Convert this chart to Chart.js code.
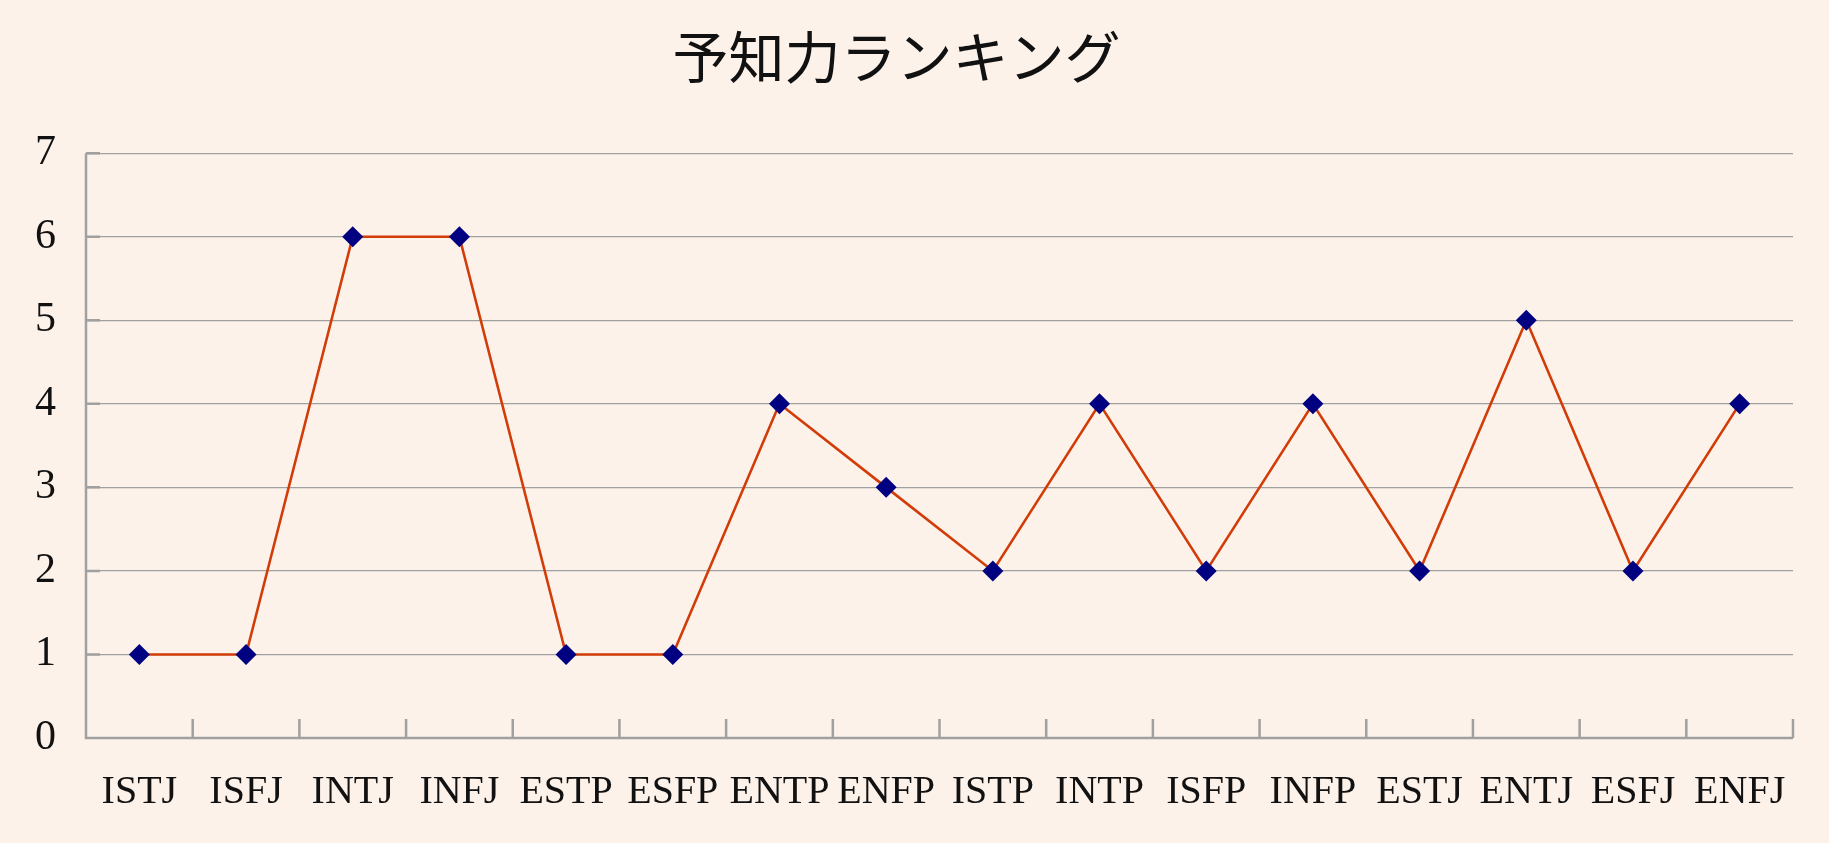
<!DOCTYPE html>
<html>
<head>
<meta charset="utf-8">
<script src="https://cdn.jsdelivr.net/npm/chart.js@4/dist/chart.umd.min.js"></script>
<style>
  html, body { margin: 0; padding: 0; background: #fdf2ea; }
  #wrap { width: 1829px; height: 843px; }
</style>
</head>
<body>
<div id="wrap"><canvas id="rank"></canvas></div>
<script>
const types = ['ISTJ', 'ISFJ', 'INTJ', 'INFJ', 'ESTP', 'ESFP', 'ENTP', 'ENFP',
               'ISTP', 'INTP', 'ISFP', 'INFP', 'ESTJ', 'ENTJ', 'ESFJ', 'ENFJ'];
const scores = [1, 1, 6, 6, 1, 1, 4, 3, 2, 4, 2, 4, 2, 5, 2, 4];
const yTicks = [0, 1, 2, 3, 4, 5, 6, 7];

const serif = '"Liberation Serif", "Noto Sans CJK JP", serif';
const axisGray = '#a0a0a0';

// short tick marks pointing into the plot, like the original
const innerTicks = {
    id: 'innerTicks',
    afterDatasetsDraw(chart) {
        const { ctx, chartArea, scales } = chart;
        const x = scales.x, y = scales.y;
        ctx.save();
        ctx.strokeStyle = axisGray;
        ctx.lineWidth = 2.5;
        ctx.beginPath();
        for (let i = 1; i <= types.length; i++) {
            const px = i < types.length
                ? (x.getPixelForValue(i - 1) + x.getPixelForValue(i)) / 2
                : chartArea.right;
            ctx.moveTo(px, chartArea.bottom);
            ctx.lineTo(px, chartArea.bottom - 19);
        }
        yTicks.forEach(v => {
            const py = y.getPixelForValue(v);
            ctx.moveTo(chartArea.left, py);
            ctx.lineTo(chartArea.left + 14, py);
        });
        // axis lines
        ctx.moveTo(chartArea.left, chartArea.top);
        ctx.lineTo(chartArea.left, chartArea.bottom);
        ctx.lineTo(chartArea.right, chartArea.bottom);
        ctx.stroke();
        ctx.restore();
    }
};

document.addEventListener('DOMContentLoaded', () => {
    const ctx = document.getElementById('rank').getContext('2d');
    new Chart(ctx, {
        type: 'line',
        data: {
            labels: types,
            datasets: [{
                label: '予知力',
                data: scores,
                borderColor: '#d23c08',
                borderWidth: 2.6,
                tension: 0,
                pointStyle: 'rectRot',
                pointRadius: 10.5,
                pointHoverRadius: 10.5,
                pointBackgroundColor: '#000080',
                pointBorderColor: '#000080',
                pointBorderWidth: 0
            }]
        },
        options: {
            responsive: true,
            maintainAspectRatio: false,
            animation: false,
            layout: { padding: { left: 0, right: 36, top: 0, bottom: 0 } },
            plugins: {
                legend: { display: false },
                tooltip: { enabled: false },
                title: {
                    display: true,
                    text: '予知力ランキング',
                    color: '#111',
                    font: { family: serif, size: 56, weight: 'normal' },
                    padding: { top: 30, bottom: 56 }
                }
            },
            scales: {
                x: {
                    offset: true,
                    grid: { display: false },
                    border: { display: false },
                    ticks: {
                        color: '#111',
                        font: { family: serif, size: 40 },
                        padding: 22,
                        maxRotation: 0,
                        autoSkip: false
                    },
                    afterFit(scale) { scale.height = 105; }
                },
                y: {
                    min: 0,
                    max: 7,
                    ticks: {
                        stepSize: 1,
                        color: '#111',
                        font: { family: serif, size: 42 },
                        padding: 30
                    },
                    grid: { color: axisGray, lineWidth: 1.3, drawTicks: false },
                    border: { display: false },
                    afterFit(scale) { scale.width = 86; }
                }
            }
        },
        plugins: [innerTicks]
    });
});
</script>
</body>
</html>
